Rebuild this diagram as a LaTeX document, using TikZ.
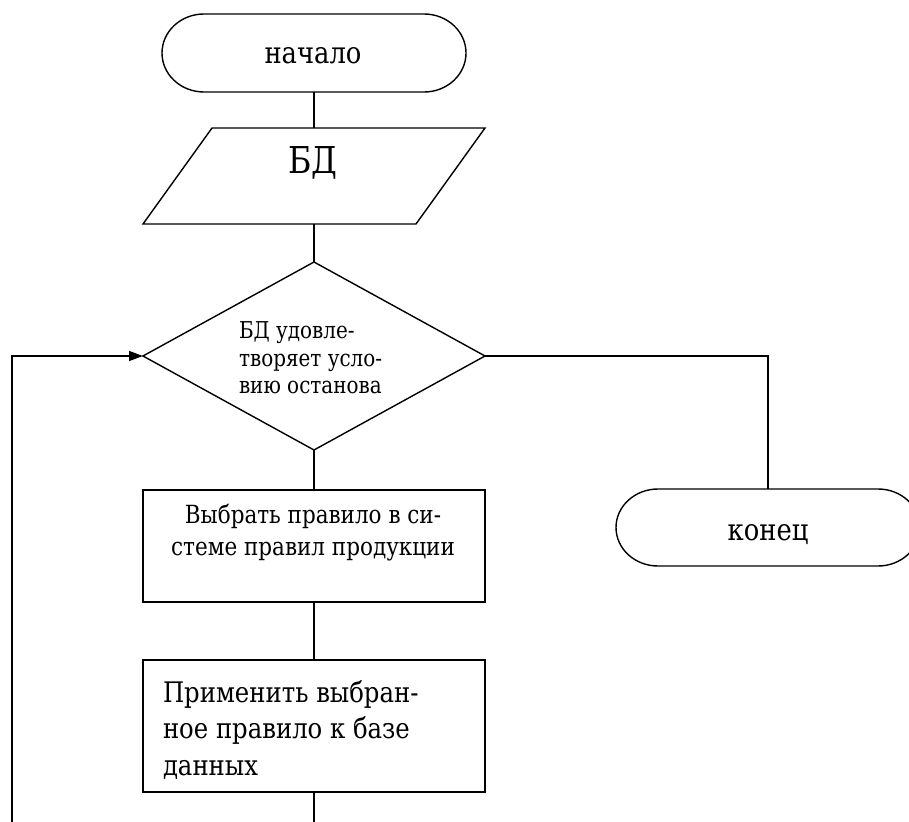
\documentclass[tikz,border=0pt]{standalone}
\usepackage{fontspec}
\setmainfont{DejaVu Serif}[FakeStretch=0.86]
\usetikzlibrary{shapes.geometric,arrows.meta}
\begin{document}
\begin{tikzpicture}[x=1pt,y=-1pt,
  line width=1.4pt,
  box/.style={draw,rectangle,inner sep=0pt,outer sep=0pt},
  ghost/.style={rectangle,inner sep=0pt,outer sep=0pt},
  txt/.style={inner sep=0pt,outer sep=0pt,anchor=base},
  txtl/.style={inner sep=0pt,outer sep=0pt,anchor=base west},
  big/.style={font=\fontsize{30}{36}\selectfont},
  bigb/.style={font=\fontsize{28.3}{36}\selectfont},
  mid/.style={font=\fontsize{25}{32}\selectfont},
  small/.style={font=\fontsize{23.2}{28}\selectfont},
  arr/.style={-{Triangle[length=14pt,width=10pt]}}
]
\useasboundingbox (0,0) rectangle (909,821);
\clip (0,0) rectangle (909,821);

% start terminal
\node[ghost,minimum width=304pt,minimum height=78pt] (nach) at (314,53) {};
\draw ([xshift=42pt]nach.north west) -- ([xshift=-42pt]nach.north east)
  arc[start angle=90,end angle=-90,x radius=42pt,y radius=39pt]
  -- ([xshift=42pt]nach.south west)
  arc[start angle=270,end angle=90,x radius=42pt,y radius=39pt] -- cycle;
\node[txt,big] (tnach) at (313,64) {начало};

% data parallelogram
\node[ghost,minimum width=342pt,minimum height=96pt] (bd) at (314,176) {};
\draw ([xshift=69pt]bd.north west) -- (bd.north east)
  -- ([xshift=-69pt]bd.south east) -- (bd.south west) -- cycle;
\node[txt,font=\fontsize{37}{40}\selectfont] (tbd) at (313,174) {БД};

% decision
\node[draw,diamond,inner sep=0pt,outer sep=0pt,minimum width=342pt,minimum height=188pt] (dia) at (314,356) {};
\node[txtl,small] (td1) at (239,338) {БД удовле-};
\node[txtl,small] (td2) at (239,366) {творяет усло-};
\node[txtl,small] (td3) at (239,393) {вию останова};

% process 1
\node[box,minimum width=342pt,minimum height=112pt] (r1) at (314,546) {};
\node[txt,mid] (tr11) at (313,523) {Выбрать правило в си-};
\node[txt,mid] (tr12) at (313,555) {стеме правил продукции};

% process 2
\node[box,minimum width=342pt,minimum height=132pt] (r2) at (314,726) {};
\node[txtl,bigb] (tr21) at (163,702) {Применить выбран-};
\node[txtl,bigb] (tr22) at (163,738) {ное правило к базе};
\node[txtl,bigb] (tr23) at (163,775) {данных};

% end terminal
\node[ghost,minimum width=304pt,minimum height=77pt] (kon) at (768,527.5) {};
\draw ([xshift=42pt]kon.north west) -- ([xshift=-42pt]kon.north east)
  arc[start angle=90,end angle=-90,x radius=42pt,y radius=38.5pt]
  -- ([xshift=42pt]kon.south west)
  arc[start angle=270,end angle=90,x radius=42pt,y radius=38.5pt] -- cycle;
\node[txt,big] (tkon) at (768,540) {конец};

% connectors
\draw (nach.south) -- (bd.north);
\draw (bd.south) -- (dia.north);
\draw (dia.south) -- (r1.north);
\draw (r1.south) -- (r2.north);
\draw (dia.east) -| (kon.north);
\coordinate (c1) at (314,850);
\coordinate (c2) at (12,850);
\draw[arr] (r2.south) -- (c1) -- (c2) |- (dia.west);
\end{tikzpicture}
\end{document}
